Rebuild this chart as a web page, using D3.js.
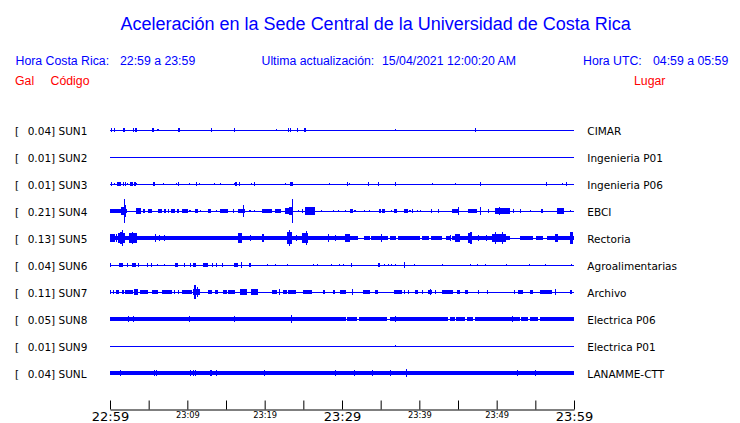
<!DOCTYPE html>
<html><head><meta charset="utf-8">
<script src="https://cdn.jsdelivr.net/npm/d3@7/dist/d3.min.js"></script>
<style>
html,body{margin:0;padding:0;background:#fff;}
svg{display:block;}
</style></head>
<body>
<svg id="chart" width="740" height="423"></svg>
<script>
// ---------- data ----------
const title = "Aceleración en la Sede Central de la Universidad de Costa Rica";
const stations = ["SUN1","SUN2","SUN3","SUN4","SUN5","SUN6","SUN7","SUN8","SUN9","SUNL"];
const galValues = ["0.04","0.01","0.01","0.21","0.13","0.04","0.11","0.05","0.01","0.04"];
const places = ["CIMAR","Ingenieria P01","Ingenieria P06","EBCI","Rectoria","Agroalimentarias","Archivo","Electrica P06","Electrica P01","LANAMME-CTT"];
const tickMinutes = [0,5,10,15,20,25,30,35,40,45,50,55,60];
const tickLabels = ["22:59","","23:09","","23:19","","23:29","","23:39","","23:49","","23:59"];
const majorLabels = ["22:59","23:29","23:59"];
// background (continuous) amplitude of each trace, relative units
const baseAmp = [0,0,0,0,0.19,0,0,0.15,0,0.15];
// quiet spans [startMin, endMin] where the continuous band drops out
const sun5Quiet = [[32.1,32.8],[33.6,33.8],[35.95,36.2],[37.0,37.2],[40.1,40.3],[41.3,41.5],[42.9,43.5],[44.0,44.2],[51.7,53.0],[54.7,55.2],[56.0,56.5]];
const sun8Quiet = [[30.5,30.7],[32.0,32.2],[35.8,36.2],[43.7,44.0],[44.6,44.8],[45.9,46.1],[47.0,47.2],[53.0,53.2],[54.1,54.3],[55.4,55.6]];
// events: [minute after 22:59, half amplitude (relative), duration in minutes]
const sun1Events = [[0.13,0.1],[0.56,0.1],[1.81,0.15,0.3],[3.0,0.1],[3.36,0.1],[5.5,0.15,0.25],[6.2,0.06],[8.9,0.08],[13.1,0.08],[16.1,0.08],[21.5,0.05],[23.1,0.08],[23.3,0.07],[24.2,0.08],[25.2,0.08],[36.9,0.06],[47.2,0.1]];
const sun2Events = [];
const sun3Events = [[0.22,0.08],[0.56,0.06],[1.16,0.1,0.45],[1.72,0.08],[2.03,0.08],[2.24,0.06],[2.8,0.1,0.45],[3.23,0.08],[3.45,0.06],[5.67,0.08,0.3],[6.89,0.06],[8.62,0.06],[8.83,0.08],[10.25,0.06],[11.21,0.08],[11.55,0.06],[13.49,0.06],[14.26,0.06],[16.07,0.06],[16.29,0.08],[16.77,0.08],[18.32,0.06],[18.66,0.08],[22.72,0.06],[23.45,0.1,0.3],[28.32,0.06],[30.69,0.08],[30.95,0.06],[33.4,0.08],[34.7,0.08],[36.86,0.08],[41.68,0.06],[44.65,0.06],[47.89,0.08],[56.42,0.08],[58.49,0.06],[59.06,0.08]];
const sun4Events = [[1.07,0.12,2.15],[1.7,0.3,0.45],[1.85,1.0],[2.0,0.5],[3.66,0.16,0.6],[4.4,0.1,0.3],[5.17,0.1,0.6],[6.47,0.12,0.5],[7.11,0.08],[7.54,0.08],[8.15,0.1,0.5],[8.79,0.1,0.3],[9.7,0.12,0.7],[10.34,0.06],[11.16,0.1,0.4],[11.64,0.06],[12.84,0.1,0.4],[13.8,0.06],[14.74,0.1,1.0],[15.95,0.08],[17.03,0.13,0.9],[17.24,0.45],[18.1,0.06],[18.66,0.06],[20.26,0.13,1.3],[21.76,0.1,0.8],[22.95,0.16,0.6],[23.4,0.28,0.4],[23.58,0.95],[24.35,0.06],[24.87,0.08],[25.86,0.25,1.2],[25.7,0.33],[27.37,0.06],[28.88,0.06],[29.53,0.06],[30.39,0.06],[31.25,0.12,0.4],[31.68,0.06],[32.89,0.05],[33.53,0.05],[34.91,0.08],[35.21,0.08],[35.43,0.08],[36.43,0.06],[36.86,0.12,0.4],[38.32,0.12,0.5],[38.79,0.06],[39.14,0.08],[39.79,0.06],[40.09,0.06],[41.6,0.08],[42.45,0.08],[44.61,0.13,0.8],[45.04,0.33],[46.85,0.13,1.1],[47.85,0.28],[48.92,0.08],[50.76,0.17,1.9],[50.4,0.25],[51.0,0.23],[52.16,0.08],[53.02,0.08],[54.4,0.06],[55.87,0.08,0.3],[58.24,0.17,0.9],[58.1,0.23],[59.49,0.06]];
const sun5Events = [[0.32,0.3,0.6],[0.87,0.25],[1.51,0.38,0.9],[1.59,0.62],[1.4,0.48],[2.97,0.35,1.1],[2.9,0.42],[5.82,0.28],[6.34,0.2],[7.02,0.2],[13.58,0.15],[15.95,0.15],[16.85,0.4,0.5],[18.19,0.23],[19.78,0.32,0.35],[21.56,0.15],[23.21,0.42,0.6],[23.15,0.62],[24.14,0.23],[25.22,0.38,0.85],[25.39,0.52],[28.23,0.28],[29.1,0.2],[30.71,0.25,0.6],[31.68,0.15],[32.97,0.15],[34.05,0.15],[35.13,0.28],[35.56,0.15],[37.72,0.15],[38.15,0.15],[39.66,0.15],[42.03,0.15],[42.67,0.15],[43.97,0.2],[44.94,0.33,0.6],[46.55,0.38,0.6],[46.68,0.48],[47.63,0.2],[48.71,0.2],[50.3,0.33,1.9],[49.79,0.43],[50.69,0.43],[53.45,0.15],[55.18,0.15],[55.61,0.15],[57.76,0.33,0.4],[59.7,0.43,0.4]];
const sun6Events = [[0.09,0.08],[1.4,0.1,0.45],[2.24,0.08],[3.1,0.1,0.4],[3.66,0.08],[4.87,0.08],[5.39,0.08],[6.12,0.06],[7.02,0.05],[8.58,0.1,0.35],[9.57,0.08],[10.39,0.08],[10.93,0.1,0.3],[12.35,0.1,0.55],[13.28,0.08],[13.8,0.08],[14.57,0.08],[16.16,0.08],[16.42,0.08],[17.03,0.2],[18.1,0.08],[20.34,0.06],[21.34,0.06],[22.93,0.06],[26.29,0.05],[26.81,0.05],[28.67,0.05],[29.65,0.06],[30.17,0.06],[31.25,0.08],[34.78,0.08],[35.47,0.06],[35.99,0.05],[36.43,0.06],[36.86,0.05],[38.06,0.22],[39.35,0.05],[43.02,0.06],[46.59,0.06],[47.5,0.06],[48.53,0.06],[51.25,0.06],[54.22,0.06],[56.29,0.05],[59.7,0.06]];
const sun7Events = [[0.09,0.07],[0.43,0.07],[0.97,0.09,0.4],[1.72,0.12,0.3],[2.46,0.12,1.1],[3.4,0.22,0.5],[4.4,0.12,1.1],[5.82,0.12,0.85],[7.33,0.12,1.3],[8.34,0.07],[8.83,0.07],[9.96,0.12,1.2],[11.21,0.2,0.9],[10.99,0.52],[11.35,0.38],[12.93,0.12,0.45],[13.8,0.12,0.4],[14.87,0.09,0.45],[15.74,0.12,0.85],[17.24,0.16,0.85],[18.71,0.16,0.95],[21.23,0.12,0.65],[21.9,0.18],[22.63,0.09,0.4],[23.53,0.12,0.95],[25.54,0.12,1.1],[27.67,0.09,0.3],[29.0,0.09,0.3],[30.13,0.12,0.9],[31.33,0.18],[33.19,0.12,0.9],[34.48,0.09,0.4],[37.22,0.12,1.0],[38.06,0.07],[38.58,0.07],[39.66,0.09,0.4],[40.44,0.07],[41.38,0.09,0.6],[41.38,0.18],[42.03,0.07],[43.64,0.12,1.5],[45.04,0.09,0.4],[46.12,0.09,0.4],[47.63,0.07],[48.82,0.09],[52.27,0.09],[53.08,0.12,0.55],[54.53,0.12,0.45],[56.36,0.12,1.5],[57.55,0.2],[59.61,0.12,0.35]];
const sun8Events = [[2.37,0.22],[3.01,0.2],[10.25,0.18],[16.07,0.18],[23.49,0.32],[36.86,0.22],[52.03,0.18]];
const sun9Events = [[36.86,0.04]];
const sunLEvents = [[1.38,0.2],[5.73,0.2],[6.04,0.18],[10.44,0.23],[10.77,0.18],[11.08,0.18],[13.06,0.18],[13.71,0.18],[19.95,0.18],[29.1,0.18],[31.59,0.18],[33.92,0.18],[36.21,0.18],[38.37,0.26],[52.67,0.18],[54.96,0.2]];

const eventsByTrace = [sun1Events,sun2Events,sun3Events,sun4Events,sun5Events,sun6Events,sun7Events,sun8Events,sun9Events,sunLEvents];
const quietByTrace = [[],[],[],[],sun5Quiet,[],[],sun8Quiet,[],[]];

// ---------- drawing ----------
const BLUE = "#0000ff", RED = "#ff0000";
const LINE_HALF = 0.7;
const svg = d3.select("#chart");
const x = d3.scaleLinear().domain([0,60]).range([110,574]);
const t0 = new Date(2021,3,14,22,59);
const xt = d3.scaleTime().domain([t0, new Date(t0.getTime()+60*60000)]).range([110,574]);
const y = d3.scalePoint().domain(stations).range([130,373]);
const amp = d3.scaleLinear().domain([0,1]).range([0,11.5]);

// header
svg.append("text").attr("x",120.5).attr("y",30).attr("fill",BLUE)
  .style("font-family","'Liberation Sans', Arial, sans-serif").style("font-size","18px").text(title);
const hdr = [
  {x:15.5,t:"Hora Costa Rica:"},{x:120,t:"22:59 a 23:59"},
  {x:261.5,t:"Ultima actualización:"},{x:382,t:"15/04/2021 12:00:20 AM"},
  {x:583,t:"Hora UTC:"},{x:653,t:"04:59 a 05:59"}];
svg.selectAll("text.hdr").data(hdr).join("text").attr("class","hdr")
  .attr("x",d=>d.x).attr("y",65).attr("fill",BLUE)
  .style("font-family","'Liberation Sans', Arial, sans-serif").style("font-size","12.3px").text(d=>d.t);
const hdr2 = [{x:15,t:"Gal"},{x:50.5,t:"Código"},{x:634,t:"Lugar"}];
svg.selectAll("text.hdr2").data(hdr2).join("text").attr("class","hdr2")
  .attr("x",d=>d.x).attr("y",85).attr("fill",RED)
  .style("font-family","'Liberation Sans', Arial, sans-serif").style("font-size","12.3px").text(d=>d.t);

// labels
const lab = svg.append("g").style("font-family","'DejaVu Sans', sans-serif").style("font-size","10.5px").attr("fill","#000");
stations.forEach((s,i)=>{
  const yy = y(s)+4.6;
  lab.append("text").attr("x",15).attr("y",yy).text("[");
  lab.append("text").attr("x",27.7).attr("y",yy).text(galValues[i]+"] "+s);
  lab.append("text").attr("x",587.3).attr("y",yy).text(places[i]);
});

// traces
const tr = svg.append("g").attr("fill",BLUE).attr("shape-rendering","crispEdges");
stations.forEach((s,i)=>{
  const g = tr.append("g");
  const cy = y(s);
  g.append("rect").attr("x",x(0)).attr("y",Math.round(cy)).attr("width",x(60)-x(0)).attr("height",1);
  if (baseAmp[i] > 0) {
    const q = quietByTrace[i];
    const segs = [];
    let start = 0;
    q.forEach(([a,b])=>{ segs.push([start,a]); start = b; });
    segs.push([start,60]);
    g.selectAll("rect.base").data(segs).join("rect").attr("class","base")
      .attr("x",d=>x(d[0])).attr("width",d=>x(d[1])-x(d[0]))
      .attr("y",cy-amp(baseAmp[i])).attr("height",2*amp(baseAmp[i]));
  }
  const half = v => LINE_HALF + amp(v);
  g.selectAll("rect.ev").data(eventsByTrace[i]).join("rect").attr("class","ev")
    .attr("x",d=>{const dur=d[2]||0.13; return Math.max(x(0), x(d[0]-dur/2));})
    .attr("width",d=>{const dur=d[2]||0.13; return Math.max(1.2, x(d[0]+dur/2)-x(d[0]-dur/2));})
    .attr("y",d=>cy-half(d[1]))
    .attr("height",d=>2*half(d[1]));
});

// axis
const axis = d3.axisBottom(xt)
  .tickValues(tickMinutes.map(m=>new Date(t0.getTime()+m*60000)))
  .tickSizeInner(-9).tickSizeOuter(0)
  .tickFormat((d,i)=>tickLabels[i]);
const ax = svg.append("g").attr("transform","translate(0,409.5)").call(axis);
ax.select(".domain").attr("stroke","#000");
ax.selectAll(".tick line").attr("stroke","#000");
ax.selectAll(".tick text").attr("fill","#000").attr("dy",null)
  .style("font-family","'DejaVu Sans', sans-serif")
  .each(function(d,i){
    const t = d3.select(this);
    if (majorLabels.includes(tickLabels[i])) t.attr("y",11).style("font-size","13px");
    else t.attr("y",8.3).style("font-size","8.3px");
  });
</script>
</body></html>
